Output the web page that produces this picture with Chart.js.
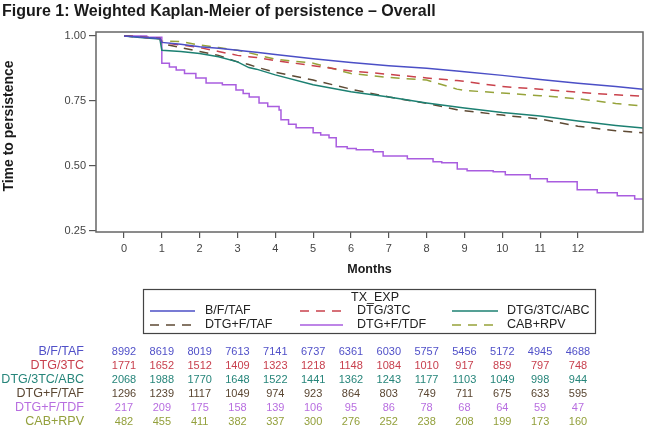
<!DOCTYPE html>
<html>
<head>
<meta charset="utf-8">
<script src="https://cdn.jsdelivr.net/npm/chart.js@4/dist/chart.umd.min.js"></script>
<style>
  html, body { margin: 0; padding: 0; background: #fff; }
  canvas { display: block; }
</style>
</head>
<body>
<canvas id="kmChart" width="647" height="432"></canvas>
<script>
// series names (legend / risk table order)
const groups = ['B/F/TAF', 'DTG/3TC', 'DTG/3TC/ABC', 'DTG+F/TAF', 'DTG+F/TDF', 'CAB+RPV'];

// month grid for the smoother curves
const months = [0, 0.5, 0.95, 1, 1.5, 2, 2.5, 3, 3.3, 3.5, 4, 5, 6, 7, 8, 8.8, 9, 10, 11, 12, 13, 13.72];

const survBFTAF   = [1, 0.995, 0.99, 0.975, 0.968, 0.958, 0.952, 0.945, 0.94, 0.937, 0.928, 0.912, 0.898, 0.885, 0.875, 0.865, 0.862, 0.848, 0.832, 0.818, 0.805, 0.795];
const survDTG3TC  = [1, 0.995, 0.99, 0.975, 0.965, 0.955, 0.94, 0.925, 0.92, 0.917, 0.905, 0.885, 0.865, 0.852, 0.838, 0.828, 0.825, 0.805, 0.795, 0.783, 0.773, 0.768];
const survABC     = [1, 0.993, 0.988, 0.945, 0.94, 0.932, 0.92, 0.9, 0.878, 0.872, 0.85, 0.812, 0.785, 0.765, 0.742, 0.726, 0.722, 0.705, 0.692, 0.672, 0.655, 0.645];
const survFTAF    = [1, 0.995, 0.99, 0.97, 0.955, 0.94, 0.925, 0.9, 0.89, 0.88, 0.86, 0.83, 0.795, 0.765, 0.74, 0.716, 0.712, 0.695, 0.68, 0.652, 0.635, 0.627];
const survCABRPV  = [1, 0.997, 0.992, 0.98, 0.978, 0.965, 0.955, 0.945, 0.935, 0.928, 0.91, 0.895, 0.855, 0.84, 0.83, 0.795, 0.79, 0.78, 0.77, 0.758, 0.74, 0.73];

// DTG+F/TDF has coarse visible steps
const tdfMonths = [0, 0.6, 1.0, 1.2, 1.38, 1.6, 1.9, 2.17, 2.6, 2.96, 3.15, 3.31, 3.57, 3.8, 4.1, 4.15, 4.35, 4.55, 5.0, 5.2, 5.42, 5.61, 5.9, 6.14, 6.59, 6.85, 7.49, 8.17, 8.4, 8.81, 9.07, 9.76, 10.08, 10.74, 11.19, 11.98, 12.51, 13.04, 13.5, 13.72];
const tdfSurv   = [1, 0.995, 0.895, 0.88, 0.869, 0.855, 0.838, 0.819, 0.812, 0.792, 0.778, 0.765, 0.742, 0.728, 0.715, 0.677, 0.66, 0.646, 0.627, 0.618, 0.608, 0.573, 0.566, 0.562, 0.554, 0.538, 0.527, 0.515, 0.512, 0.488, 0.481, 0.477, 0.465, 0.45, 0.438, 0.408, 0.396, 0.385, 0.372, 0.369];

// axis ticks
const xTicks = [0, 1, 2, 3, 4, 5, 6, 7, 8, 9, 10, 11, 12];
const yTicks = [0.25, 0.5, 0.75, 1.0];

// numbers at risk, one per month 0..12
const riskBFTAF  = [8992, 8619, 8019, 7613, 7141, 6737, 6361, 6030, 5757, 5456, 5172, 4945, 4688];
const riskDTG3TC = [1771, 1652, 1512, 1409, 1323, 1218, 1148, 1084, 1010, 917, 859, 797, 748];
const riskABC    = [2068, 1988, 1770, 1648, 1522, 1441, 1362, 1243, 1177, 1103, 1049, 998, 944];
const riskFTAF   = [1296, 1239, 1117, 1049, 974, 923, 864, 803, 749, 711, 675, 633, 595];
const riskFTDF   = [217, 209, 175, 158, 139, 106, 95, 86, 78, 68, 64, 59, 47];
const riskCABRPV = [482, 455, 411, 382, 337, 300, 276, 252, 238, 208, 199, 173, 160];

const lineColors = ['#4b4fc6', '#c9424c', '#1c8072', '#5e4a34', '#a95ddf', '#96a33a'];
const textColors = ['#5050c8', '#c8404e', '#26857a', '#5a4632', '#b86ee0', '#93a03c'];
const dashes = [[], [9, 7], [], [9, 7], [], [9, 7]];

const survSets = [
  [months, survBFTAF], [months, survDTG3TC], [months, survABC],
  [months, survFTAF], [tdfMonths, tdfSurv], [months, survCABRPV]
];
const riskRows = [riskBFTAF, riskDTG3TC, riskABC, riskFTAF, riskFTDF, riskCABRPV];

const FONT = '"Liberation Sans", Arial, sans-serif';

// frame, titles, legend box and risk table
const extrasPlugin = {
  id: 'extras',
  afterDraw(chart) {
    const ctx = chart.ctx;
    const a = chart.chartArea;
    const xs = chart.scales.x;
    ctx.save();

    // plot frame
    ctx.strokeStyle = '#666';
    ctx.lineWidth = 1.5;
    ctx.strokeRect(a.left, a.top, a.right - a.left, a.bottom - a.top);

    // figure title
    ctx.fillStyle = '#1a1a1a';
    ctx.font = 'bold 16px ' + FONT;
    ctx.textAlign = 'left';
    ctx.textBaseline = 'alphabetic';
    ctx.fillText('Figure 1: Weighted Kaplan-Meier of persistence \u2013 Overall', 2, 16);

    // axis titles
    ctx.font = 'bold 12.5px ' + FONT;
    ctx.textAlign = 'center';
    ctx.textBaseline = 'middle';
    ctx.fillText('Months', (a.left + a.right) / 2, a.bottom + 38);
    ctx.save();
    ctx.translate(9, 126);
    ctx.rotate(-Math.PI / 2);
    ctx.font = 'bold 14px ' + FONT;
    ctx.fillText('Time to persistence', 0, 0);
    ctx.restore();

    // legend box
    ctx.strokeStyle = '#444';
    ctx.lineWidth = 1.2;
    ctx.strokeRect(143.5, 289.5, 452, 44);
    ctx.font = '12.5px ' + FONT;
    ctx.fillStyle = '#222';
    ctx.fillText('TX_EXP', 375, 298);
    const colX = [[150, 195, 205], [300, 343, 357], [452, 498, 507]];
    const rowY = [311, 325];
    groups.forEach((g, i) => {
      const c = colX[i % 3];
      const y = rowY[Math.floor(i / 3)];
      ctx.strokeStyle = lineColors[i];
      ctx.lineWidth = 1.3;
      ctx.setLineDash(dashes[i]);
      ctx.beginPath();
      ctx.moveTo(c[0], y);
      ctx.lineTo(c[1], y);
      ctx.stroke();
      ctx.setLineDash([]);
      ctx.fillStyle = '#222';
      ctx.textAlign = 'left';
      ctx.fillText(g, c[2], y);
    });

    // numbers at risk
    groups.forEach((g, i) => {
      const y = 352 + i * 14;
      ctx.fillStyle = textColors[i];
      ctx.font = '12.5px ' + FONT;
      ctx.textAlign = 'right';
      ctx.fillText(g, 84, y);
      ctx.font = '11px ' + FONT;
      ctx.textAlign = 'center';
      riskRows[i].forEach((n, k) => {
        ctx.fillText(String(n), xs.getPixelForValue(xTicks[k]), y);
      });
    });

    ctx.restore();
  }
};

new Chart(document.getElementById('kmChart'), {
  type: 'line',
  data: {
    datasets: groups.map((g, i) => ({
      label: g,
      data: survSets[i][0].map((m, k) => ({ x: m, y: survSets[i][1][k] })),
      borderColor: lineColors[i],
      borderWidth: 1.5,
      borderDash: dashes[i],
      pointRadius: 0,
      tension: 0,
      stepped: i === 4 ? 'before' : false,
      fill: false
    }))
  },
  options: {
    responsive: false,
    animation: false,
    events: [],
    layout: { padding: { left: 46, right: 4, top: 32, bottom: 175 } },
    plugins: {
      legend: { display: false },
      tooltip: { enabled: false },
      title: { display: false }
    },
    scales: {
      x: {
        type: 'linear',
        min: -0.74,
        max: 13.72,
        afterBuildTicks: s => { s.ticks = xTicks.map(v => ({ value: v })); },
        afterFit: s => { s.height = 25; },
        grid: { drawOnChartArea: false, drawTicks: true, tickLength: 6, color: '#555', lineWidth: 1.2 },
        border: { display: false },
        ticks: { autoSkip: false, maxRotation: 0, padding: 4, color: '#444', font: { family: FONT, size: 11 } }
      },
      y: {
        type: 'linear',
        min: 0.245,
        max: 1.015,
        afterBuildTicks: s => { s.ticks = yTicks.map(v => ({ value: v })); },
        afterFit: s => { s.width = 50; },
        grid: { drawOnChartArea: false, drawTicks: true, tickLength: 7, color: '#555', lineWidth: 1.2 },
        border: { display: false },
        ticks: { padding: 3, color: '#444', font: { family: FONT, size: 11 }, callback: v => v.toFixed(2) }
      }
    }
  },
  plugins: [extrasPlugin]
});
</script>
</body>
</html>
